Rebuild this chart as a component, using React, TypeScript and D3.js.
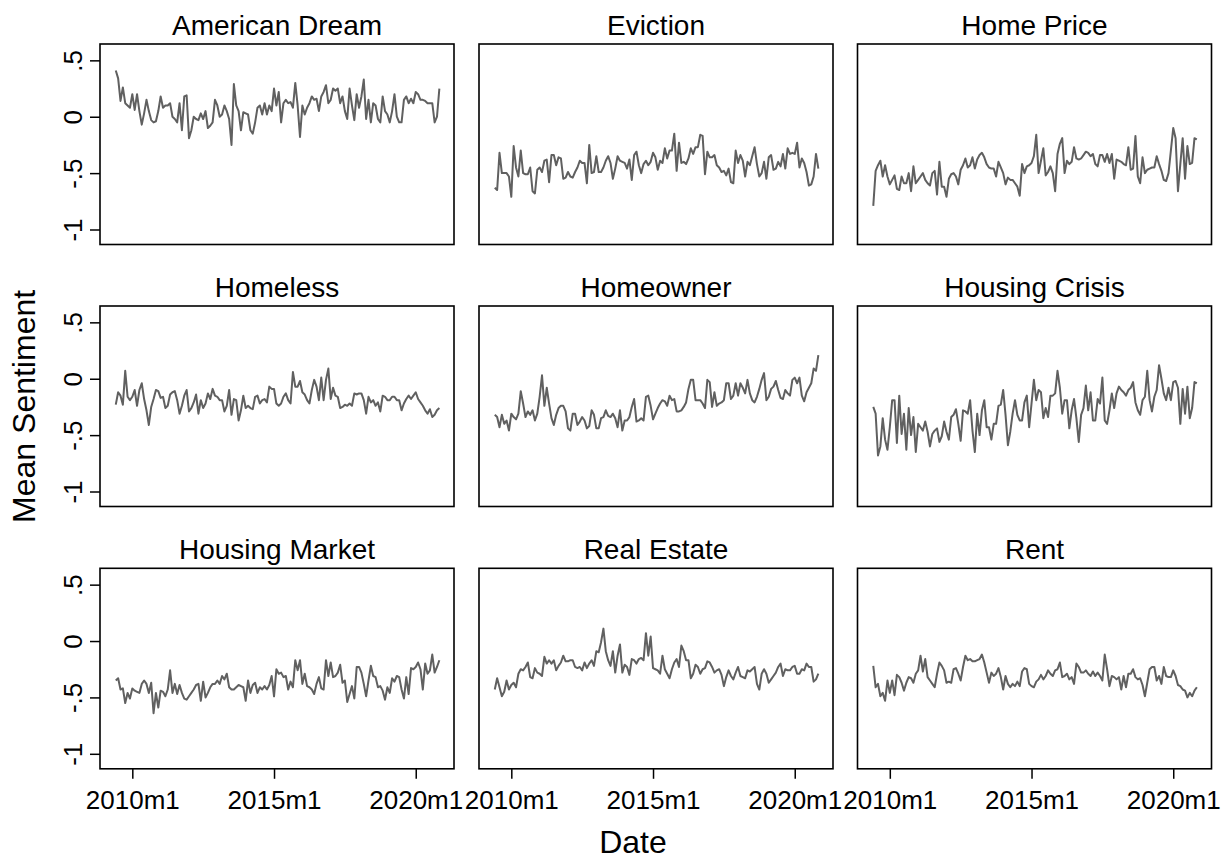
import * as d3 from 'd3';
import React, { useRef, useEffect } from 'react';

// panel titles, in the order they are laid out (3 x 3)
const titles = [
    'American Dream', 'Eviction', 'Home Price',
    'Homeless', 'Homeowner', 'Housing Crisis',
    'Housing Market', 'Real Estate', 'Rent'
];

// monthly mean sentiment, 2009m6 .. 2020m11 (138 months)
const americanDream = [
    0.41, 0.34, 0.14, 0.26, 0.12, 0.10, 0.08,
    0.20, 0.06, 0.20, 0.05, -0.07, 0.03, 0.15, 0.05, -0.03, -0.05, -0.04, 0.05,
    0.18, 0.08, 0.10, 0.10, 0.12, 0.00, -0.02, -0.05, 0.12, -0.12, 0.18, 0.19,
    -0.19, -0.12, 0.00, -0.02, -0.03, 0.03, -0.02, 0.05, -0.10, -0.08, -0.05, 0.15,
    0.10, 0.00, 0.02, 0.10, 0.05, -0.02, -0.25, 0.29, 0.10, 0.05, -0.12, 0.04,
    0.03, 0.02, -0.12, -0.15, -0.05, 0.08, 0.10, 0.02, 0.12, 0.02, 0.10, 0.05,
    0.25, 0.10, 0.22, -0.05, 0.12, 0.15, 0.12, 0.13, 0.08, 0.30, 0.10, -0.18,
    0.10, 0.02, 0.08, 0.12, 0.18, 0.15, 0.16, 0.05, 0.18, 0.22, 0.28, 0.12,
    0.15, 0.25, 0.23, 0.25, 0.12, 0.18, 0.05, -0.02, 0.25, 0.10, -0.03, 0.20,
    0.08, 0.18, 0.33, -0.02, 0.15, -0.05, 0.12, 0.10, -0.02, -0.05, 0.18, 0.05,
    0.02, -0.05, 0.05, 0.20, 0.00, -0.05, -0.05, 0.15, 0.18, 0.12, 0.16, 0.12,
    0.22, 0.20, 0.15, 0.15, 0.14, 0.12, 0.12, 0.12, -0.05, 0.00, 0.25
];

const eviction = [
    -0.63, -0.65, -0.32, -0.50, -0.50, -0.50, -0.53, -0.71, -0.26, -0.45,
    -0.53, -0.30, -0.50, -0.51, -0.51, -0.45, -0.66, -0.68, -0.47, -0.45,
    -0.49, -0.39, -0.38, -0.58, -0.34, -0.34, -0.43, -0.36, -0.37, -0.55,
    -0.54, -0.49, -0.53, -0.54, -0.49, -0.45, -0.39, -0.41, -0.41, -0.59,
    -0.25, -0.50, -0.49, -0.35, -0.49, -0.49, -0.45, -0.39, -0.35, -0.41,
    -0.55, -0.46, -0.35, -0.39, -0.40, -0.41, -0.46, -0.38, -0.56, -0.34,
    -0.31, -0.43, -0.50, -0.42, -0.39, -0.43, -0.40, -0.32, -0.36, -0.47,
    -0.39, -0.41, -0.28, -0.37, -0.30, -0.30, -0.15, -0.48, -0.23, -0.41,
    -0.40, -0.42, -0.37, -0.28, -0.33, -0.27, -0.27, -0.16, -0.17, -0.51,
    -0.31, -0.36, -0.36, -0.34, -0.43, -0.45, -0.49, -0.48, -0.52, -0.46,
    -0.58, -0.59, -0.30, -0.41, -0.34, -0.39, -0.53, -0.40, -0.43, -0.35,
    -0.27, -0.42, -0.53, -0.50, -0.40, -0.55, -0.36, -0.34, -0.47, -0.46,
    -0.40, -0.44, -0.33, -0.46, -0.28, -0.33, -0.32, -0.33, -0.23, -0.45,
    -0.37, -0.41, -0.49, -0.61, -0.60, -0.53, -0.33, -0.46
];

const homePrice = [
    -0.79, -0.48, -0.43, -0.39, -0.53, -0.43, -0.53, -0.60, -0.56, -0.52,
    -0.64, -0.65, -0.53, -0.59, -0.59, -0.50, -0.66, -0.44, -0.59, -0.56,
    -0.53, -0.50, -0.56, -0.59, -0.61, -0.50, -0.48, -0.69, -0.40, -0.62,
    -0.62, -0.71, -0.55, -0.51, -0.50, -0.53, -0.60, -0.47, -0.43, -0.37,
    -0.45, -0.43, -0.36, -0.46, -0.38, -0.34, -0.32, -0.36, -0.42, -0.45,
    -0.46, -0.46, -0.53, -0.40, -0.45, -0.50, -0.60, -0.54, -0.56,
    -0.56, -0.59, -0.62, -0.70, -0.42, -0.50, -0.44, -0.43, -0.41, -0.35,
    -0.16, -0.50, -0.39, -0.28, -0.52, -0.49, -0.44, -0.50, -0.66, -0.33,
    -0.24, -0.19, -0.50, -0.39, -0.42, -0.40, -0.27, -0.37, -0.38, -0.37,
    -0.34, -0.31, -0.32, -0.35, -0.33, -0.42, -0.44, -0.34, -0.34, -0.40,
    -0.33, -0.41, -0.33, -0.55, -0.38, -0.39, -0.40, -0.42, -0.43, -0.27,
    -0.47, -0.46, -0.17, -0.53, -0.59, -0.36, -0.50, -0.47, -0.46,
    -0.45, -0.45, -0.35, -0.42, -0.48, -0.56, -0.57, -0.50, -0.30, -0.10,
    -0.19, -0.66, -0.42, -0.19, -0.55, -0.26, -0.42, -0.41, -0.19, -0.20
];

const homeless = [
    -0.23, -0.12, -0.15, -0.23, 0.07, -0.16, -0.19, -0.16, -0.10,
    -0.24, -0.10, -0.04, -0.18, -0.28, -0.41, -0.25, -0.18, -0.10, -0.11,
    -0.17, -0.16, -0.26, -0.24, -0.14, -0.12, -0.11, -0.19, -0.31, -0.24,
    -0.15, -0.10, -0.29, -0.26, -0.21, -0.14, -0.31, -0.19, -0.26, -0.22,
    -0.13, -0.18, -0.09, -0.15, -0.16, -0.19, -0.19, -0.29, -0.24, -0.10,
    -0.32, -0.18, -0.19, -0.37, -0.28, -0.15, -0.26, -0.24, -0.26,
    -0.27, -0.16, -0.15, -0.22, -0.19, -0.18, -0.21, -0.07, -0.09, -0.09,
    -0.22, -0.24, -0.22, -0.16, -0.13, -0.19, -0.22, 0.06, -0.07, -0.07,
    -0.02, -0.12, -0.14, -0.19, -0.22, -0.10, -0.01, -0.07, -0.19, 0.01,
    -0.19, -0.01, 0.09, -0.18, -0.08, -0.15, -0.16, -0.26, -0.25, -0.23,
    -0.24, -0.22, -0.24, -0.13, -0.14, -0.13, -0.13, -0.19, -0.31, -0.16,
    -0.21, -0.19, -0.24, -0.21, -0.29, -0.15, -0.16, -0.19, -0.19, -0.16,
    -0.16, -0.19, -0.19, -0.28, -0.22, -0.18, -0.15, -0.18, -0.15,
    -0.12, -0.18, -0.21, -0.24, -0.28, -0.31, -0.27, -0.34, -0.32, -0.28, -0.26
];

const homeowner = [
    -0.32, -0.34, -0.43, -0.32, -0.40, -0.37, -0.46, -0.31, -0.34, -0.36,
    -0.31, -0.11, -0.22, -0.34, -0.29, -0.32, -0.28, -0.37, -0.31, -0.16,
    0.03, -0.24, -0.08, -0.22, -0.35, -0.41, -0.32, -0.26, -0.24, -0.24,
    -0.29, -0.44, -0.46, -0.31, -0.31, -0.41, -0.38, -0.34, -0.37,
    -0.44, -0.42, -0.28, -0.32, -0.44, -0.44, -0.35, -0.34, -0.28, -0.33,
    -0.34, -0.31, -0.35, -0.43, -0.28, -0.46, -0.37, -0.37, -0.34, -0.25,
    -0.18, -0.38, -0.37, -0.35, -0.37, -0.16, -0.15, -0.24, -0.36,
    -0.31, -0.26, -0.22, -0.19, -0.20, -0.24, -0.15, -0.19, -0.18, -0.29,
    -0.29, -0.28, -0.25, -0.21, -0.09, -0.01, -0.01, -0.19, -0.19, -0.19,
    -0.22, -0.26, -0.01, -0.03, -0.25, -0.12, -0.24, -0.22, -0.21, -0.19,
    -0.04, -0.04, -0.18, -0.15, -0.04, -0.15, -0.04, -0.08, -0.13, -0.01,
    -0.13, -0.19, -0.21, -0.16, -0.09, -0.01, 0.05, -0.19, -0.16, -0.09,
    -0.07, -0.02, -0.10, -0.17, -0.18, -0.10, -0.13, -0.15, -0.01,
    0.01, -0.04, 0.01, -0.15, -0.20, -0.12, -0.08, -0.04, 0.09, 0.07, 0.21
];

const housingCrisis = [
    -0.25, -0.31, -0.68, -0.60, -0.35, -0.54, -0.63, -0.43, -0.19, -0.19,
    -0.57, -0.15, -0.49, -0.31, -0.63, -0.26, -0.50, -0.34, -0.65, -0.40,
    -0.43, -0.46, -0.38, -0.47, -0.60, -0.49, -0.46, -0.44, -0.56,
    -0.51, -0.38, -0.47, -0.54, -0.34, -0.32, -0.27, -0.40, -0.55, -0.28,
    -0.29, -0.31, -0.19, -0.46, -0.65, -0.31, -0.50, -0.28, -0.19, -0.43,
    -0.43, -0.54, -0.40, -0.40, -0.24, -0.23, -0.10, -0.32, -0.59, -0.47,
    -0.31, -0.19, -0.32, -0.37, -0.37, -0.21, -0.15, -0.43, -0.22, -0.01,
    -0.19, -0.10, -0.12, -0.35, -0.26, -0.34, -0.15, -0.15, -0.13, 0.07,
    -0.08, -0.31, -0.19, -0.19, -0.44, -0.28, -0.18, -0.35, -0.56, -0.32,
    -0.26, -0.06, -0.28, -0.12, -0.37, -0.37, -0.18, -0.22, 0.01,
    -0.37, -0.40, -0.28, -0.13, -0.26, -0.13, -0.07, -0.10, -0.12, -0.15,
    -0.10, -0.08, -0.03, -0.21, -0.28, -0.32, -0.19, -0.16, 0.07, -0.19,
    -0.29, -0.16, -0.10, 0.12, 0.00, -0.13, -0.19, -0.08, -0.19, -0.03,
    -0.02, -0.08, -0.40, -0.09, -0.31, -0.07, -0.35, -0.26, -0.03, -0.04
];

const housingMarket = [
    -0.35, -0.33, -0.43, -0.42, -0.55, -0.46, -0.51, -0.42, -0.44, -0.45,
    -0.46, -0.38, -0.35, -0.38, -0.46, -0.37, -0.64, -0.46, -0.59, -0.44,
    -0.45, -0.49, -0.43, -0.26, -0.46, -0.38, -0.47, -0.39, -0.46, -0.51,
    -0.52, -0.49, -0.46, -0.43, -0.39, -0.38, -0.53, -0.36, -0.50, -0.46,
    -0.41, -0.38, -0.38, -0.35, -0.38, -0.31, -0.34, -0.29, -0.41, -0.43,
    -0.43, -0.41, -0.39, -0.40, -0.41, -0.53, -0.35, -0.46, -0.39,
    -0.37, -0.46, -0.41, -0.43, -0.40, -0.43, -0.39, -0.31, -0.49, -0.25,
    -0.29, -0.28, -0.32, -0.31, -0.43, -0.36, -0.41, -0.17, -0.26, -0.17,
    -0.38, -0.29, -0.40, -0.41, -0.43, -0.47, -0.38, -0.32, -0.42, -0.43,
    -0.17, -0.31, -0.19, -0.32, -0.31, -0.28, -0.21, -0.37, -0.35, -0.54,
    -0.47, -0.40, -0.51, -0.23, -0.23, -0.28, -0.38, -0.49, -0.35, -0.22,
    -0.31, -0.32, -0.41, -0.40, -0.44, -0.52, -0.41, -0.46, -0.33,
    -0.36, -0.31, -0.32, -0.43, -0.51, -0.32, -0.47, -0.24, -0.25, -0.23,
    -0.19, -0.25, -0.43, -0.20, -0.29, -0.26, -0.12, -0.28, -0.23, -0.17
];

const realEstate = [
    -0.43, -0.33, -0.41, -0.49, -0.45, -0.35, -0.43, -0.39, -0.37, -0.41,
    -0.29, -0.25, -0.26, -0.23, -0.19, -0.32, -0.33, -0.24, -0.28, -0.29,
    -0.31, -0.14, -0.20, -0.17, -0.20, -0.17, -0.26, -0.22, -0.19, -0.13,
    -0.18, -0.18, -0.17, -0.17, -0.23, -0.24, -0.23, -0.26, -0.19,
    -0.24, -0.20, -0.17, -0.22, -0.09, -0.10, -0.01, 0.11, -0.09, -0.17,
    -0.22, -0.09, -0.28, -0.13, -0.03, -0.28, -0.21, -0.23, -0.30,
    -0.16, -0.17, -0.20, -0.16, -0.15, -0.17, 0.07, -0.13, 0.04, -0.24,
    -0.25, -0.26, -0.29, -0.13, -0.25, -0.29, -0.33, -0.25, -0.19, -0.16,
    -0.23, -0.04, -0.09, -0.17, -0.17, -0.33, -0.29, -0.21, -0.23, -0.29,
    -0.25, -0.24, -0.18, -0.19, -0.23, -0.28, -0.26, -0.25, -0.30,
    -0.40, -0.32, -0.26, -0.31, -0.34, -0.28, -0.23, -0.31, -0.32, -0.33,
    -0.26, -0.27, -0.25, -0.23, -0.38, -0.43, -0.29, -0.25, -0.29, -0.37,
    -0.34, -0.31, -0.28, -0.23, -0.20, -0.31, -0.25, -0.26, -0.26, -0.23,
    -0.22, -0.29, -0.29, -0.25, -0.26, -0.20, -0.23, -0.23, -0.36, -0.34, -0.29
];

const rent = [
    -0.22, -0.41, -0.38, -0.49, -0.46, -0.53, -0.35, -0.46, -0.35, -0.48,
    -0.30, -0.32, -0.37, -0.44, -0.37, -0.32, -0.33, -0.37, -0.29, -0.26,
    -0.13, -0.27, -0.16, -0.32, -0.35, -0.38, -0.41, -0.29, -0.19, -0.22,
    -0.26, -0.37, -0.36, -0.37, -0.25, -0.24, -0.29, -0.35, -0.23,
    -0.13, -0.17, -0.16, -0.18, -0.18, -0.17, -0.16, -0.12, -0.19, -0.28,
    -0.37, -0.28, -0.31, -0.29, -0.24, -0.32, -0.43, -0.31, -0.38, -0.41,
    -0.38, -0.40, -0.36, -0.40, -0.27, -0.24, -0.25, -0.38, -0.40, -0.41,
    -0.36, -0.34, -0.30, -0.34, -0.31, -0.26, -0.29, -0.31, -0.26,
    -0.25, -0.19, -0.32, -0.31, -0.29, -0.34, -0.32, -0.38, -0.20, -0.23,
    -0.28, -0.28, -0.26, -0.29, -0.31, -0.27, -0.31, -0.28, -0.31, -0.35,
    -0.12, -0.25, -0.40, -0.31, -0.32, -0.34, -0.32, -0.43, -0.31, -0.41,
    -0.29, -0.29, -0.25, -0.32, -0.34, -0.33, -0.39, -0.49, -0.37, -0.25,
    -0.23, -0.23, -0.35, -0.31, -0.38, -0.23, -0.31, -0.32, -0.32, -0.26,
    -0.31, -0.39, -0.40, -0.43, -0.44, -0.50, -0.46, -0.49, -0.44, -0.41
];

const series = [
    americanDream, eviction, homePrice,
    homeless, homeowner, housingCrisis,
    housingMarket, realEstate, rent
];

// first month of the data
const startYear = 2009;
const startMonth = 6;

const xTickLabels = ['2010m1', '2015m1', '2020m1'];
const yTickValues = [0.5, 0, -0.5, -1];
const yTickLabels = ['.5', '0', '-.5', '-1'];

const FONT = '"Liberation Sans", Arial, Helvetica, sans-serif';

// "2010m1" -> months since the first observation
const monthIndex = (label: string) => {
    const [yy, mm] = label.split('m').map(Number);
    return (yy - startYear) * 12 + (mm - startMonth);
};

const App = () => {
    const svgRef = useRef<SVGSVGElement>(null);

    useEffect(() => {
        const width = 1228;
        const height = 861;
        const colLeft = [100, 479, 857.5];
        const rowTop = [44, 306, 568.3];
        const panelW = 354;
        const panelH = 200.5;

        const svg = d3.select(svgRef.current);
        svg.selectAll('*').remove();
        svg.attr('width', width).attr('height', height);

        svg.append('rect')
            .attr('width', width)
            .attr('height', height)
            .attr('fill', '#fff');

        const x = d3.scaleLinear().domain([-6.68, 143.2]).range([0, panelW]);
        const y = d3.scaleLinear().domain([-1.133, 0.645]).range([panelH, 0]);

        const line = d3.line<number>()
            .x((d, i) => x(i))
            .y((d) => y(d));

        series.forEach((values, k) => {
            const r = Math.floor(k / 3);
            const c = k % 3;
            const g = svg.append('g')
                .attr('transform', `translate(${colLeft[c]},${rowTop[r]})`);

            g.append('path')
                .datum(values)
                .attr('d', line)
                .attr('fill', 'none')
                .attr('stroke', '#606060')
                .attr('stroke-width', 2)
                .attr('stroke-linejoin', 'round');

            g.append('rect')
                .attr('width', panelW)
                .attr('height', panelH)
                .attr('fill', 'none')
                .attr('stroke', '#000')
                .attr('stroke-width', 1.6);

            g.append('text')
                .attr('x', panelW / 2)
                .attr('y', -9.5)
                .attr('text-anchor', 'middle')
                .style('font-family', FONT)
                .style('font-size', '28px')
                .attr('fill', '#000')
                .text(titles[k]);

            // y axis only on the left column
            if (c === 0) {
                const ax = g.append('g')
                    .call(d3.axisLeft(y)
                        .tickValues(yTickValues)
                        .tickFormat((d, i) => yTickLabels[i])
                        .tickSize(10));
                ax.select('.domain').remove();
                ax.selectAll('line').attr('stroke', '#000').attr('stroke-width', 1.5);
                ax.selectAll('text')
                    .attr('x', 0)
                    .attr('y', -18)
                    .attr('dy', 0)
                    .attr('transform', 'rotate(-90)')
                    .attr('text-anchor', 'middle')
                    .attr('fill', '#000')
                    .style('font-family', FONT)
                    .style('font-size', '26px');
            }

            // x axis only on the bottom row
            if (r === 2) {
                const ax = g.append('g')
                    .attr('transform', `translate(0,${panelH})`)
                    .call(d3.axisBottom(x)
                        .tickValues(xTickLabels.map(monthIndex))
                        .tickFormat((d, i) => xTickLabels[i])
                        .tickSize(10));
                ax.select('.domain').remove();
                ax.selectAll('line').attr('stroke', '#000').attr('stroke-width', 1.5);
                ax.selectAll('text')
                    .attr('y', 40.5)
                    .attr('dy', 0)
                    .attr('fill', '#000')
                    .style('font-family', FONT)
                    .style('font-size', '26px');
            }
        });

        // shared axis titles
        svg.append('text')
            .attr('transform', `translate(35,${(rowTop[0] + rowTop[2] + panelH) / 2}) rotate(-90)`)
            .attr('text-anchor', 'middle')
            .style('font-family', FONT)
            .style('font-size', '32px')
            .text('Mean Sentiment');

        svg.append('text')
            .attr('x', 633)
            .attr('y', 853)
            .attr('text-anchor', 'middle')
            .style('font-family', FONT)
            .style('font-size', '32px')
            .text('Date');
    }, []);

    return (
        <svg ref={svgRef} style={{ position: 'absolute', left: 0, top: 0 }}></svg>
    );
};

export default App;
